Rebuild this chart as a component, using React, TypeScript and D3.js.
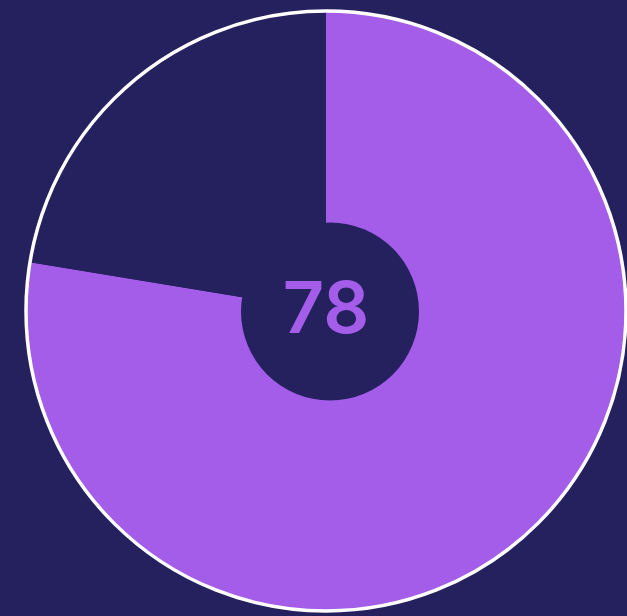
import React from "react";
import * as d3 from "d3";

const labels = ["Score", "Remainder"];
const values = [77.6, 22.4];
const centerLabel = "78";

const W = 627;
const H = 616;
const BG = "#25215f";
const PURPLE = "#a35de9";

export default function App() {
  const cx = 326;
  const cy = 311;
  const R = 300;
  const pie = d3.pie<number>().sort(null).value((d) => d)(values);
  const arc = d3.arc<d3.PieArcDatum<number>>().innerRadius(0).outerRadius(R);
  const colors = [PURPLE, BG];
  return (
    <div style={{ position: "fixed", left: 0, top: 0, width: W, height: H }}>
      <svg width={W} height={H} style={{ display: "block" }}>
        <rect x={0} y={0} width={W} height={H} fill={BG} />
        <g transform={`translate(${cx},${cy})`}>
          {pie.map((p, i) => (
            <path key={labels[i]} d={arc(p) || ""} fill={colors[i]} />
          ))}
          <circle r={R} fill="none" stroke="#ffffff" strokeWidth={3.5} />
        </g>
        <circle cx={cx + 4} cy={cy + 0.5} r={89} fill={BG} />
        <text
          x={cx}
          y={cy + 22}
          textAnchor="middle"
          fill={PURPLE}
          fontFamily="Inter, 'Noto Sans', sans-serif"
          fontWeight={600}
          fontSize={72}
        >
          {centerLabel}
        </text>
      </svg>
    </div>
  );
}
